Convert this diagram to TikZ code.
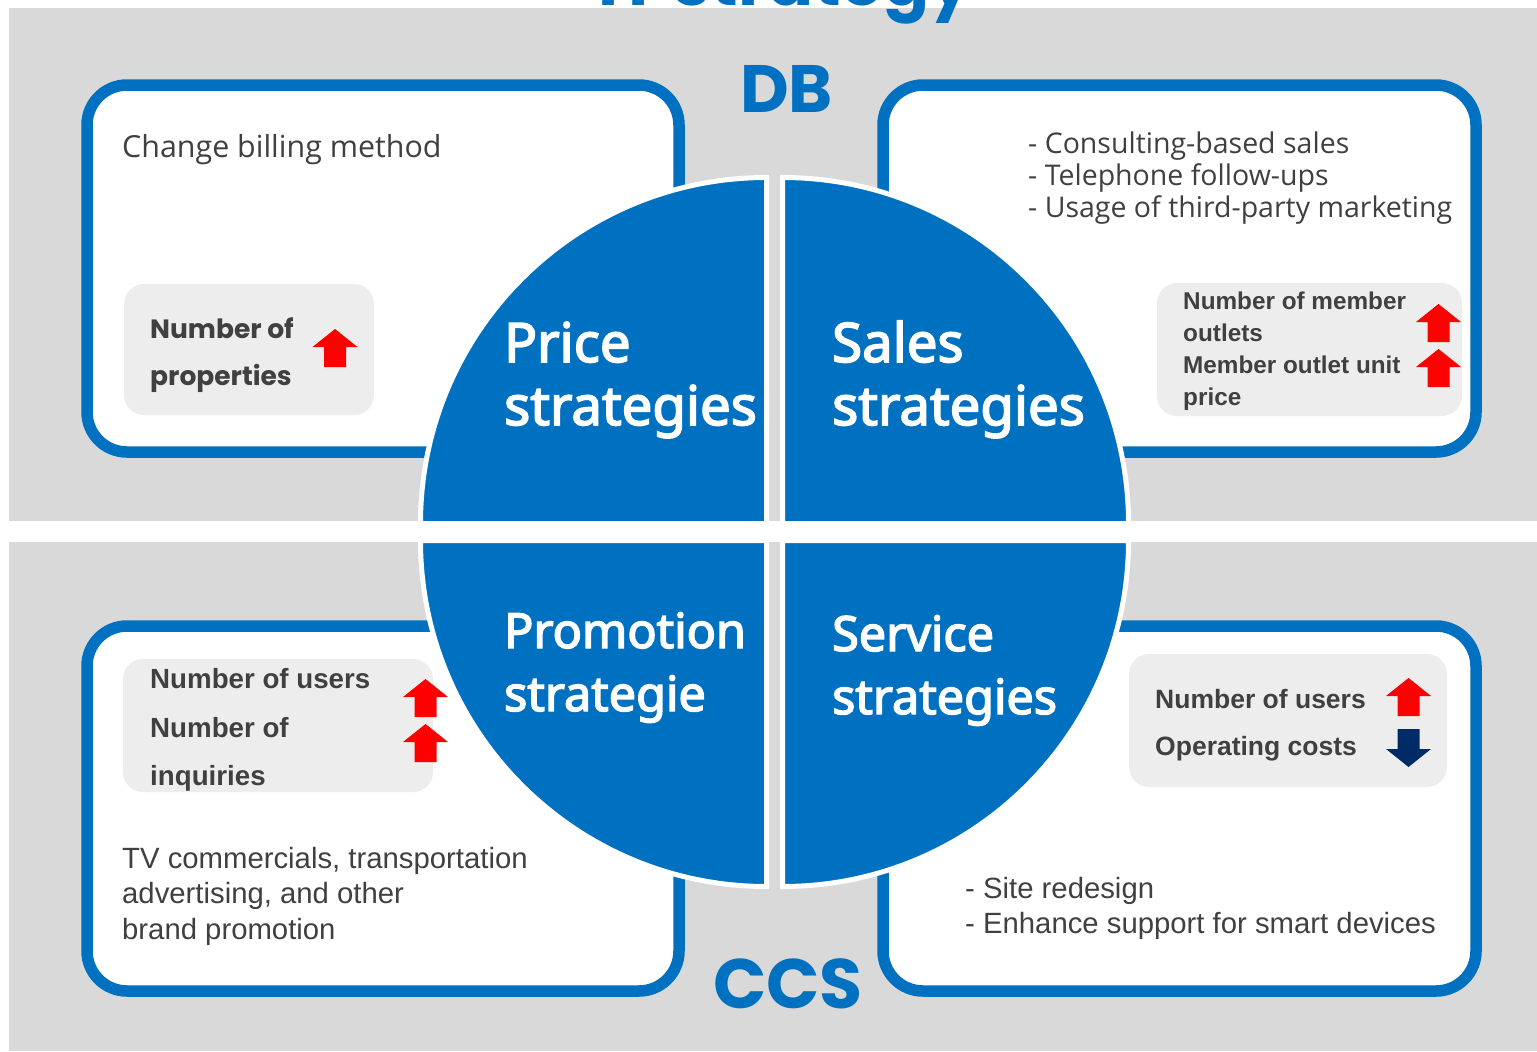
\documentclass[tikz,border=0pt]{standalone}
\usepackage{fontspec}
\newfontfamily\headfont{Noto Sans}[FakeBold=3]
\newfontfamily\bodyfont{Open Sans}
\newfontfamily\arialfont{Liberation Sans}
\newfontfamily\geofont{Poppins}
\definecolor{bandgray}{HTML}{D9D9D9}
\definecolor{boxgray}{HTML}{EDEDED}
\definecolor{brandblue}{HTML}{0070C0}
\definecolor{inktext}{HTML}{404040}
\definecolor{arrowred}{HTML}{FF0000}
\definecolor{navy}{HTML}{002B66}
\begin{document}
\begin{tikzpicture}[x=1bp,y=-1bp,
  band/.style={fill=bandgray},
  panel/.style={draw=brandblue,fill=white,line width=11.5bp,rounded corners=40bp},
  kpibox/.style={fill=boxgray,rounded corners=20bp},
  quarter/.style={fill=brandblue,draw=white,line width=5bp},
  txt/.style={anchor=base west,inner sep=0pt,text=inktext},
  plain/.style={txt,font=\bodyfont\fontsize{28.5bp}{34bp}\selectfont},
  arialtxt/.style={txt,font=\arialfont\fontsize{29.3bp}{34bp}\selectfont},
  kpi/.style={txt,font=\arialfont\bfseries\fontsize{24.3bp}{30bp}\selectfont},
  kpigeo/.style={txt,font=\geofont\bfseries\fontsize{26.5bp}{32bp}\selectfont},
  qtitle/.style={anchor=base west,inner sep=0pt,text=white,font=\headfont\fontsize{54.5bp}{60bp}\selectfont},
  qtitlelow/.style={qtitle,font=\headfont\fontsize{48.5bp}{56bp}\selectfont},
  seg/.style={anchor=base west,inner sep=0pt,text=brandblue,font=\geofont\bfseries\fontsize{70bp}{80bp}\selectfont},
  uparr/.pic={\fill[arrowred] (0,0) -- (22.5,18) -- (11,18) -- (11,38) -- (-11,38) -- (-11,18) -- (-22.5,18) -- cycle;},
  downarr/.pic={\fill[navy] (0,0) -- (22.5,-18) -- (11,-18) -- (11,-38) -- (-11,-38) -- (-11,-18) -- (-22.5,-18) -- cycle;}
]
\useasboundingbox (0,0) rectangle (1537,1051);
\fill[white] (0,0) rectangle (1537,1051);

% grey bands for the two segments
\fill[band] (9,8) rectangle (1537,521);
\fill[band] (9,542) rectangle (1537,1051);

% heading, mostly above the page edge
\node[seg,font=\geofont\bfseries\fontsize{68bp}{74bp}\selectfont] (heading) at (598,5) {IT strategy};

% four outlined panels
\draw[panel] (87,85) rectangle (679,452);
\draw[panel] (883,85) rectangle (1476,452);
\draw[panel] (87,626) rectangle (679,991);
\draw[panel] (883,626) rectangle (1476,991);

% indicator boxes
\fill[kpibox] (124,284) rectangle (374,415);
\fill[kpibox] (1157,283) rectangle (1462,416);
\fill[kpibox] (123,659) rectangle (433,792);
\fill[kpibox] (1129,654) rectangle (1447,787);

% top-left panel
\node[plain,font=\bodyfont\fontsize{30.4bp}{34bp}\selectfont] (billing) at (122,157) {Change billing method};
\node[kpigeo] (propA) at (150,338) {Number of};
\node[kpigeo] (propB) at (150,385) {properties};
\pic at (335,329) {uparr};

% top-right panel
\node[plain] (salesA) at (1028,153) {- Consulting-based sales};
\node[plain] (salesB) at (1028,185) {- Telephone follow-ups};
\node[plain] (salesC) at (1028,217) {- Usage of third-party marketing};
\node[kpi] (memA) at (1183,309) {Number of member};
\node[kpi] (memB) at (1183,341) {outlets};
\node[kpi] (memC) at (1183,373) {Member outlet unit};
\node[kpi] (memD) at (1183,405) {price};
\pic at (1438.5,304) {uparr};
\pic at (1438.5,349) {uparr};

% bottom-left panel
\node[kpi,font=\arialfont\bfseries\fontsize{27.7bp}{30bp}\selectfont] (usrA) at (150,688) {Number of users};
\node[kpi,font=\arialfont\bfseries\fontsize{27.7bp}{30bp}\selectfont] (inqA) at (150,737) {Number of};
\node[kpi,font=\arialfont\bfseries\fontsize{27.7bp}{30bp}\selectfont] (inqB) at (150,785) {inquiries};
\pic at (425.5,679) {uparr};
\pic at (425.5,724) {uparr};
\node[arialtxt] (promoA) at (122,868) {TV commercials, transportation};
\node[arialtxt] (promoB) at (122,903) {advertising, and other};
\node[arialtxt] (promoC) at (122,939) {brand promotion};

% bottom-right panel
\node[kpi,font=\arialfont\bfseries\fontsize{26.5bp}{30bp}\selectfont] (svcA) at (1155,708) {Number of users};
\node[kpi,font=\arialfont\bfseries\fontsize{26.5bp}{30bp}\selectfont] (svcB) at (1155,755) {Operating costs};
\pic at (1408.5,678) {uparr};
\pic at (1408.5,767) {downarr};
\node[arialtxt] (siteA) at (965,898) {- Site redesign};
\node[arialtxt] (siteB) at (965,933) {- Enhance support for smart devices};

% the four strategy quarters
\filldraw[quarter] (766.5,523.5) -- ++(-346,0) arc[start angle=180,end angle=270,radius=346] -- cycle;
\filldraw[quarter] (782.5,523.5) -- ++(0,-346) arc[start angle=270,end angle=360,radius=346] -- cycle;
\filldraw[quarter] (766.5,540.5) -- ++(0,346) arc[start angle=90,end angle=180,radius=346] -- cycle;
\filldraw[quarter] (782.5,540.5) -- ++(346,0) arc[start angle=0,end angle=90,radius=346] -- cycle;

\node[qtitle] (priceA) at (504,362) {Price};
\node[qtitle] (priceB) at (504,425) {strategies};
\node[qtitle] (salesT) at (832,362) {Sales};
\node[qtitle] (salesU) at (832,425) {strategies};
\node[qtitlelow] (promT) at (504,648) {Promotion};
\node[qtitlelow] (promU) at (504,711) {strategie};
\node[qtitlelow] (servT) at (832,651) {Service};
\node[qtitlelow] (servU) at (832,714) {strategies};

% segment labels
\node[seg,font=\geofont\bfseries\fontsize{67bp}{80bp}\selectfont] (db) at (740,112) {DB};
\node[seg] (ccs) at (713,1008) {CCS};
\end{tikzpicture}
\end{document}
